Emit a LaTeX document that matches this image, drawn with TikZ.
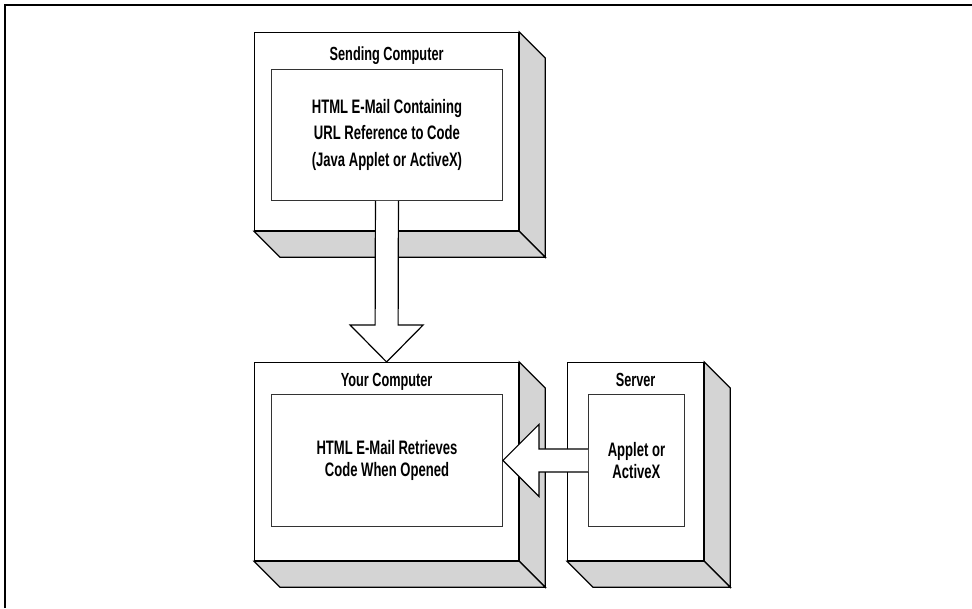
\documentclass[tikz,border=0pt]{standalone}
\usepackage{fontspec}
\setmainfont{Liberation Sans}[FakeStretch=0.67]
\usetikzlibrary{calc}

\tikzset{
  face/.style={draw,fill=white,line width=1.2pt,anchor=north west,inner sep=0pt},
  panel/.style={draw=black!80,fill=white,line width=0.9pt,anchor=north west,inner sep=0pt,align=center,
    font=\bfseries\fontsize{19.5}{22.5}\selectfont},
  side/.style={draw,fill=black!17,line width=1.2pt,line join=miter},
  title/.style={anchor=base,inner sep=0pt,font=\bfseries\fontsize{19}{22}\selectfont},
  blockarrow/.style={draw,fill=white,line width=1.2pt,line join=miter}
}

\begin{document}
\begin{tikzpicture}[x=1pt,y=-1pt]
\useasboundingbox (0,0) rectangle (972,608);
\draw[line width=1.3pt] (5,608) -- (5,5) -- (972,5);

\node[face,minimum width=264pt,minimum height=198pt] (send) at (254,32) {};
\node[face,minimum width=264pt,minimum height=198pt] (your) at (254,362) {};
\node[face,minimum width=136pt,minimum height=198pt] (serv) at (567,362) {};

% depth of the boxes
\foreach \b in {send,your,serv} {
  \draw[side] (\b.north east) -- ($(\b.north east)+(26,26)$) -- ($(\b.south east)+(26,26)$) -- (\b.south east) -- cycle;
  \draw[side] (\b.south west) -- ($(\b.south west)+(26,26)$) -- ($(\b.south east)+(26,26)$) -- (\b.south east) -- cycle;
}

\node[panel,minimum width=231pt,minimum height=131pt,font=\bfseries\fontsize{19.5}{26.7}\selectfont] (sendin) at (271,69)
  {HTML E-Mail Containing\\URL Reference to Code\\(Java Applet or ActiveX)};
\node[panel,minimum width=231pt,minimum height=132pt] (yourin) at (271,394)
  {HTML E-Mail Retrieves\\Code When Opened};
\node[panel,minimum width=96pt,minimum height=132pt,font=\bfseries\fontsize{19.5}{21.5}\selectfont] (servin) at (588,394)
  {Applet or\\ActiveX};

\node[title] (sendt) at ($(send.north)+(0,28)$) {Sending Computer};
\node[title] (yourt) at ($(your.north)+(0,24)$) {Your Computer};
\node[title] (servt) at ($(serv.north)+(0,24)$) {Server};

% block arrows
\draw[blockarrow] ($(sendin.south)+(-11.5,0)$) -- ($(your.north)+(-11.5,-37)$) -- ($(your.north)+(-36.5,-37)$)
  -- (your.north) -- ($(your.north)+(36.5,-37)$) -- ($(your.north)+(11.5,-37)$) -- ($(sendin.south)+(11.5,0)$);
\draw[blockarrow] ($(servin.west)+(0,-11.5)$) -- ($(yourin.east)+(36,-11.5)$) -- ($(yourin.east)+(36,-36)$)
  -- (yourin.east) -- ($(yourin.east)+(36,36)$) -- ($(yourin.east)+(36,11.5)$) -- ($(servin.west)+(0,11.5)$);
\end{tikzpicture}
\end{document}
